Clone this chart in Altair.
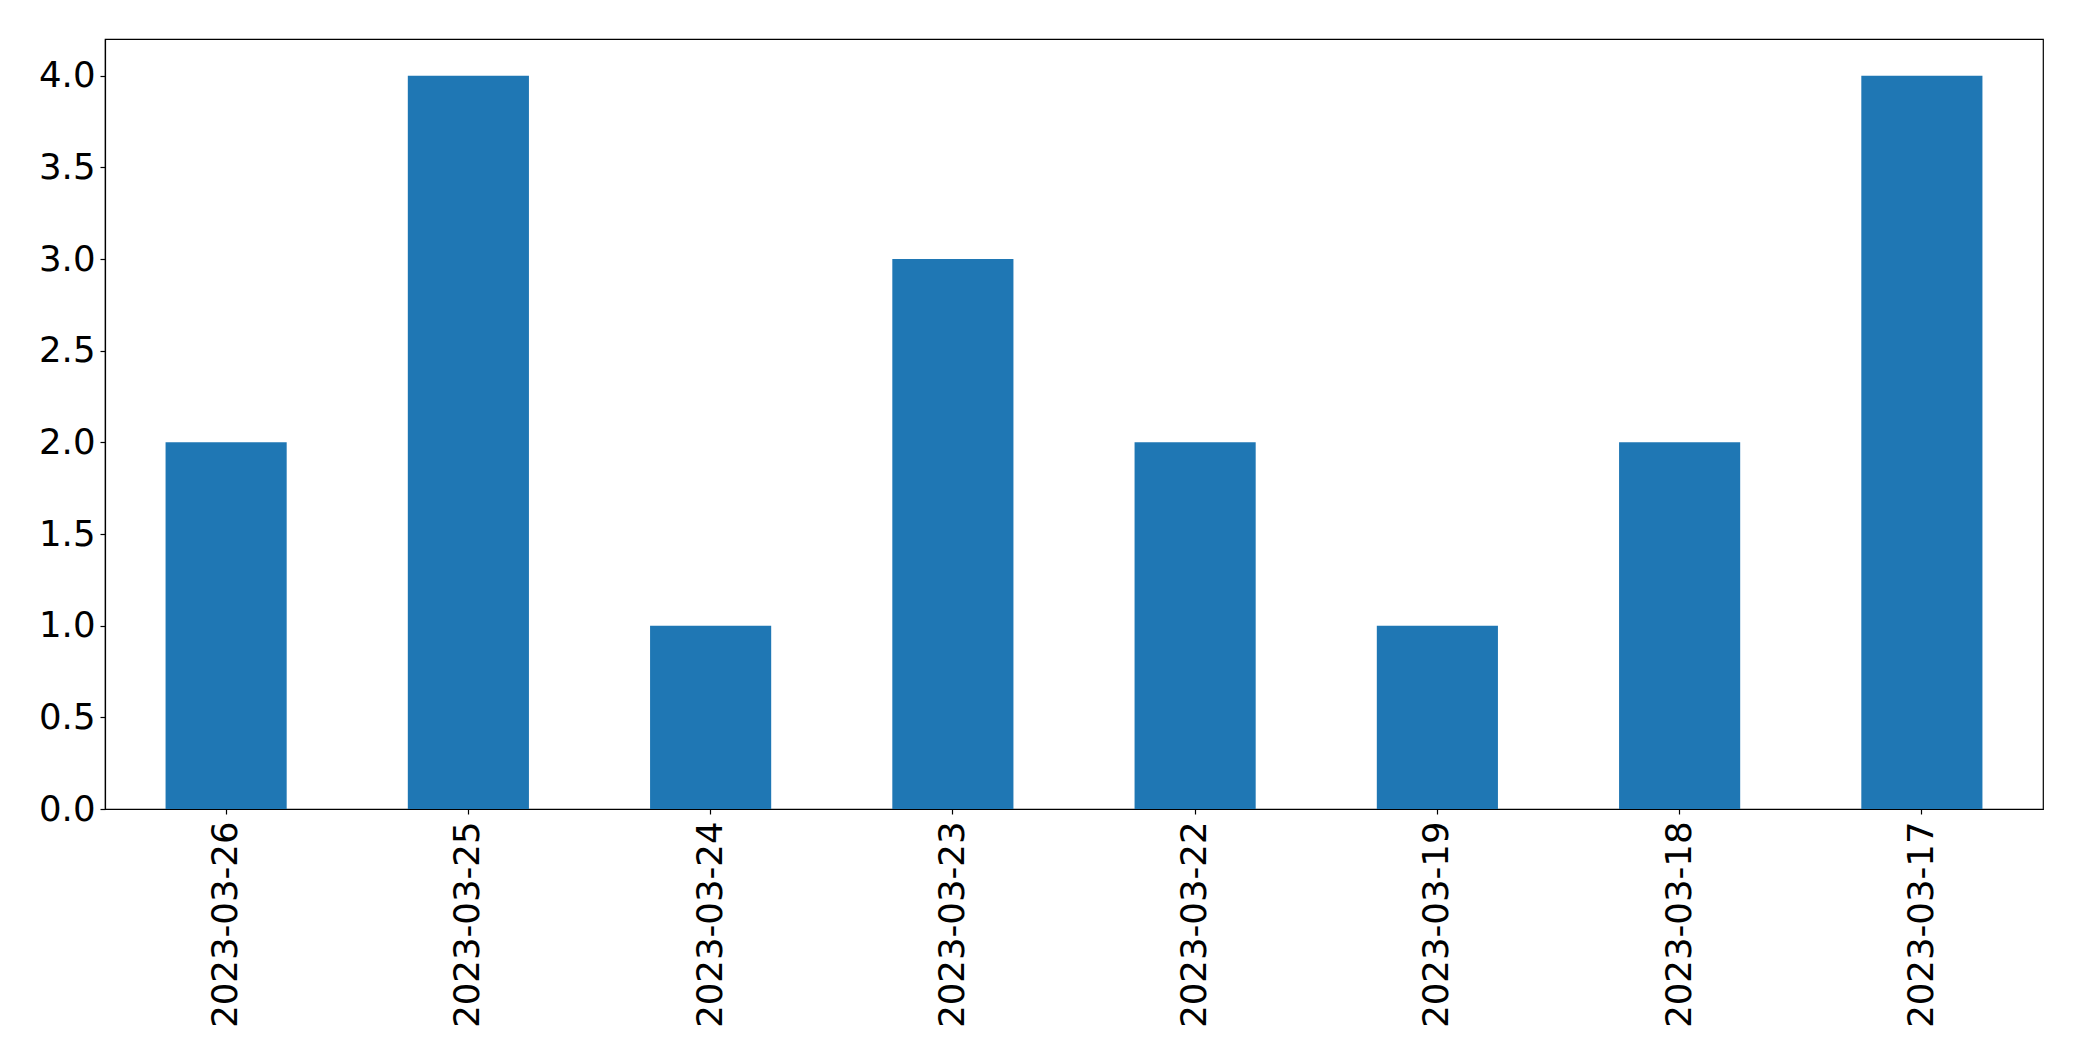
import altair as alt
import pandas as pd

dates = ["2023-03-26", "2023-03-25", "2023-03-24", "2023-03-23",
         "2023-03-22", "2023-03-19", "2023-03-18", "2023-03-17"]
counts = [2, 4, 1, 3, 2, 1, 2, 4]
y_ticks = [0.0, 0.5, 1.0, 1.5, 2.0, 2.5, 3.0, 3.5, 4.0]

df = pd.DataFrame({"date": dates, "count": counts})

chart = alt.Chart(df).mark_bar(color="#1f77b4").encode(
    x=alt.X("date:N", sort=None, title=None,
            scale=alt.Scale(paddingInner=0.5, paddingOuter=0.25),
            axis=alt.Axis(labelAngle=270, labelAlign="right", labelBaseline="middle",
                          labelFontSize=35.5, labelFont="DejaVu Sans", labelColor="black",
                          labelPadding=7, labelLimit=400, tickSize=5, tickColor="black",
                          domainColor="black", tickWidth=1.2, domainWidth=1.2, grid=False)),
    y=alt.Y("count:Q", title=None,
            scale=alt.Scale(domain=[0, 4.2], nice=False, zero=True),
            axis=alt.Axis(values=y_ticks, format=".1f", labelFontSize=35.5,
                          labelFont="DejaVu Sans", labelColor="black", labelPadding=5,
                          tickSize=5, tickColor="black", domainColor="black",
                          tickWidth=1.2, domainWidth=1.2, grid=False)),
).properties(
    width=1938,
    height=770,
    background="white",
    autosize=alt.AutoSizeParams(type="none"),
    padding={"left": 97, "top": 31, "right": 30, "bottom": 220},
).configure_view(
    stroke="black", strokeWidth=1.2
)

chart.save("out.html", embed_options={"renderer": "svg", "actions": False})
